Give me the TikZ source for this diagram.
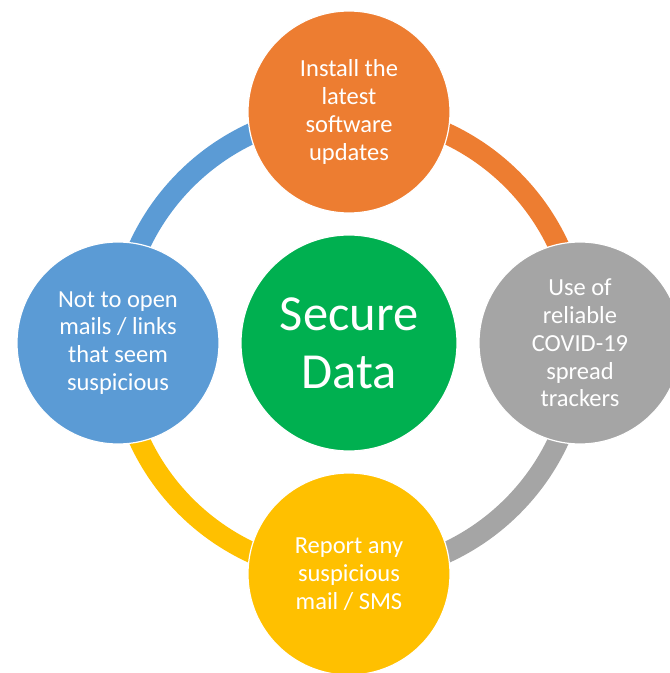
\documentclass[tikz,border=0pt]{standalone}
\usepackage{fontspec}
\setmainfont{Carlito}
\definecolor{cOrange}{HTML}{ED7D31}
\definecolor{cGray}{HTML}{A5A5A5}
\definecolor{cYellow}{HTML}{FFC000}
\definecolor{cBlue}{HTML}{5B9BD5}
\definecolor{cGreen}{HTML}{00B050}
\tikzset{
  ring/.style={line width=21pt},
  petal/.style={circle, minimum size=202pt, inner sep=0pt, draw=white, line width=1.2pt,
    text=white, align=center, font=\fontsize{24.5}{27.8}\selectfont},
  hub/.style={circle, minimum size=216pt, inner sep=0pt, draw=white, line width=1.2pt,
    fill=cGreen, text=white, align=center, font=\fontsize{50.5}{58}\selectfont}
}
\begin{document}
\begin{tikzpicture}[x=1pt,y=1pt]
  \useasboundingbox (0,0) rectangle (670,673);
  \clip (0,0) rectangle (670,673);
  \coordinate (ctr) at (349,330);
  \coordinate (pTop) at (349,561);
  \coordinate (pRight) at (580,330);
  \coordinate (pBottom) at (349,99);
  \coordinate (pLeft) at (118,330);

  % coloured ring segments linking the outer circles
  \draw[ring, cBlue]   (pLeft)   arc[start angle=180, end angle=90,   radius=231];
  \draw[ring, cOrange] (pTop)    arc[start angle=90,  end angle=0,    radius=231];
  \draw[ring, cGray]   (pRight)  arc[start angle=0,   end angle=-90,  radius=231];
  \draw[ring, cYellow] (pBottom) arc[start angle=-90, end angle=-180, radius=231];

  % outer circles
  \node[petal, fill=cOrange] (install) at (pTop) {Install the\\latest\\software\\updates};
  \node[petal, fill=cGray] (trackers) at (pRight) {Use of\\reliable\\COVID-19\\spread\\trackers};
  \node[petal, fill=cYellow] (report) at (pBottom) {Report any\\suspicious\\mail / SMS};
  \node[petal, fill=cBlue] (links) at (pLeft) {Not to open\\mails / links\\that seem\\suspicious};

  % central circle
  \node[hub] (secure) at (ctr) {Secure\\Data};
\end{tikzpicture}
\end{document}
